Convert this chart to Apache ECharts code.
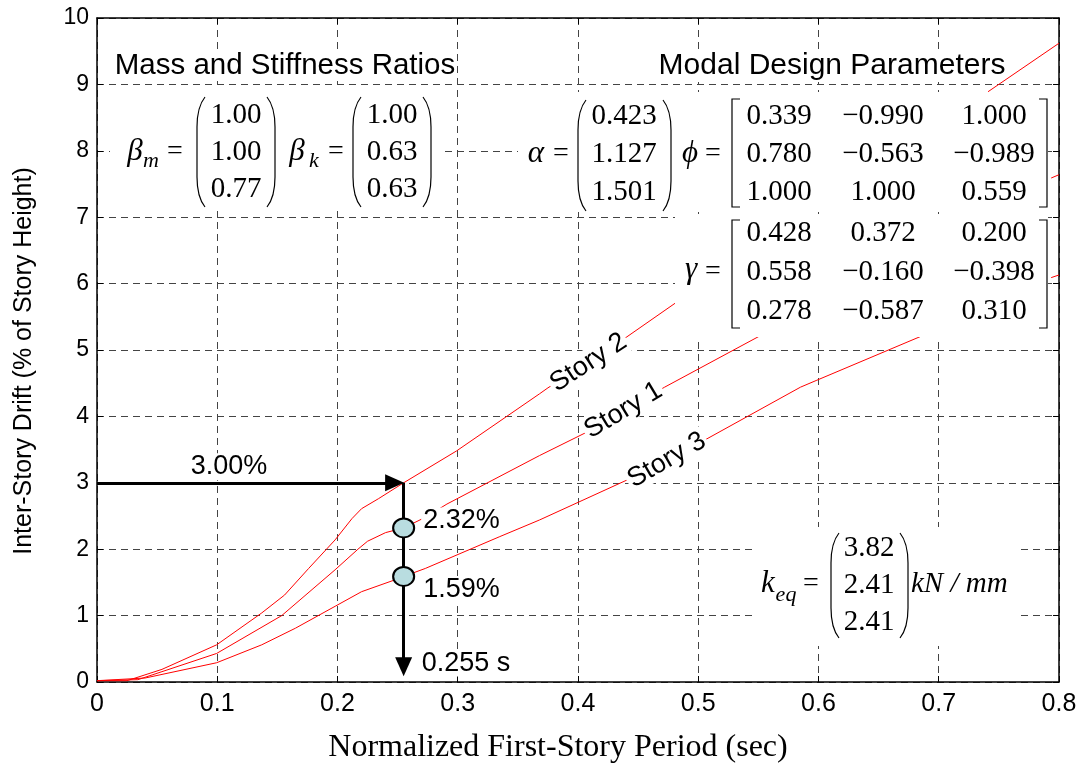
<!DOCTYPE html>
<html lang="en">
  <head>
    <meta charset="UTF-8" />
    <title>Inter-Story Drift</title>
    <style>
      html,
      body {
        margin: 0;
        padding: 0;
        background: #fff;
      }
      #main {
        width: 1081px;
        height: 769px;
      }
    </style>
  </head>
  <body>
    <div id="main"></div>
    <script src="https://cdn.jsdelivr.net/npm/echarts@6/dist/echarts.min.js"></script>

    <script>
      // drift curves: [period (s), drift (%)]; null = hidden behind a box
      const story1 = [
        [0, 0.02], [0.034, 0.035], [0.0995, 0.43], [0.1536, 1.0], [0.198, 1.69],
        [0.217, 2.0], [0.225, 2.12], [0.24, 2.25], [0.255, 2.32], [0.273, 2.48],
        [0.291, 2.68], [0.368, 3.41], [0.407, 3.76], [0.472, 4.44], [0.551, 5.21],
        null, [0.7935, 7.59], [0.8, 7.64],
      ];
      const story2 = [
        [0, 0.02], [0.025, 0.02], [0.054, 0.19], [0.0995, 0.56], [0.137, 1.04],
        [0.156, 1.31], [0.176, 1.71], [0.198, 2.14], [0.212, 2.46], [0.22, 2.61],
        [0.234, 2.76], [0.255, 3.0], [0.299, 3.48], [0.368, 4.34], [0.375, 4.43],
        [0.44, 5.19], [0.482, 5.72], null, [0.741, 8.89], [0.8, 9.62],
      ];
      const story3 = [
        [0, 0.02], [0.04, 0.06], [0.0995, 0.29], [0.137, 0.56], [0.165, 0.81],
        [0.198, 1.14], [0.22, 1.36], [0.248, 1.54], [0.255, 1.59], [0.273, 1.71],
        [0.335, 2.19], [0.368, 2.44], [0.4405, 3.04], [0.507, 3.66], [0.585, 4.44],
        [0.598, 4.54], [0.687, 5.22], null, [0.7935, 6.09], [0.8, 6.13],
      ];

      const targetPeriod = 0.255;
      const targetDrift = 3.0;
      const otherDrifts = [2.32, 1.59];

      const storyNames = ["Story 2", "Story 1", "Story 3"];
      const storyNameX = [0.4087, 0.4377, 0.4738];
      const storyNameY = [4.81, 4.09, 3.34];

      const betaM = [1.0, 1.0, 0.77];
      const betaK = [1.0, 0.63, 0.63];
      const alpha = [0.423, 1.127, 1.501];
      const phi = [
        [0.339, -0.99, 1.0],
        [0.78, -0.563, -0.989],
        [1.0, 1.0, 0.559],
      ];
      const gamma = [
        [0.428, 0.372, 0.2],
        [0.558, -0.16, -0.398],
        [0.278, -0.587, 0.31],
      ];
      const keq = [3.82, 2.41, 2.41];

      const SANS = "'Liberation Sans', Arial, sans-serif";
      const NARROW = "'Liberation Sans Narrow', 'Liberation Sans', Arial, sans-serif";
      const SERIF = "'Liberation Serif', 'Times New Roman', serif";

      const gap = (d) => (d === null ? ["-", "-"] : d);
      const fmt = (v, n) => (v < 0 ? "\u2212" + (-v).toFixed(n) : v.toFixed(n));

      // ---- annotation helpers (pixel space) ----
      function txt(x, y, s, font, align) {
        align = align || "center";
        return {
          type: "text",
          x: x,
          y: y,
          z: 110,
          style: {
            text: s,
            font: font,
            fill: "#000",
            textAlign: align,
            textVerticalAlign: "middle",
            align: align,
            verticalAlign: "middle",
          },
        };
      }
      function box(x1, y1, x2, y2) {
        return {
          type: "rect",
          z: 100,
          shape: { x: x1, y: y1, width: x2 - x1, height: y2 - y1 },
          style: { fill: "#fff" },
        };
      }
      const stroke = { fill: "none", stroke: "#000", lineWidth: 1.2 };
      function paren(x, top, bottom, side) {
        const d = 8 * side;
        return [
          { type: "bezierCurve", z: 110, shape: { x1: x + d, y1: top, cpx1: x, cpy1: top + 10, x2: x, y2: top + 30 }, style: stroke },
          { type: "line", z: 110, shape: { x1: x, y1: top + 30, x2: x, y2: bottom - 30 }, style: stroke },
          { type: "bezierCurve", z: 110, shape: { x1: x, y1: bottom - 30, cpx1: x, cpy1: bottom - 10, x2: x + d, y2: bottom }, style: stroke },
        ];
      }
      function bracket(x, top, bottom, side) {
        const d = 8 * side;
        return [
          { type: "polyline", z: 110, shape: { points: [[x + d, top], [x, top], [x, bottom], [x + d, bottom]] }, style: stroke },
        ];
      }
      function column(vals, x, rows, n) {
        return vals.map((v, i) => txt(x, rows[i], fmt(v, n), "29px " + SERIF));
      }
      function grid3(mat, cols, rows) {
        const out = [];
        mat.forEach((r, i) => r.forEach((v, j) => out.push(txt(cols[j], rows[i], fmt(v, 3), "29px " + SERIF))));
        return out;
      }

      const rowsTop = [116, 154, 192];
      const rowsGamma = [233, 272, 311];
      const rowsK = [548, 585, 622];
      const matCols = [779, 883, 994];

      const graphics = [].concat(
        // mass and stiffness ratios
        box(112, 52, 454, 81),
        txt(285, 66, "Mass and Stiffness Ratios", "29.5px " + SANS),
        box(110, 88, 443, 211),
        txt(135, 152, "\u03B2", "italic 31px " + SERIF),
        txt(151, 161, "m", "italic 22px " + SERIF),
        txt(175, 152, "=", "28px " + SERIF),
        paren(197, 97, 207, 1),
        column(betaM, 236, [115, 152, 189], 2),
        paren(275, 97, 207, -1),
        txt(297, 152, "\u03B2", "italic 31px " + SERIF),
        txt(314, 161, "k", "italic 22px " + SERIF),
        txt(336, 152, "=", "28px " + SERIF),
        paren(353, 97, 207, 1),
        column(betaK, 392, [115, 152, 189], 2),
        paren(431, 97, 207, -1),
        // modal design parameters
        box(655, 50, 1002, 82),
        txt(832, 66, "Modal Design Parameters", "30px " + SANS),
        box(518, 92, 1048, 212),
        txt(536, 154, "\u03B1", "italic 31px " + SERIF),
        txt(561, 154, "=", "28px " + SERIF),
        paren(578, 100, 211, 1),
        column(alpha, 624, rowsTop, 3),
        paren(671, 100, 211, -1),
        txt(690, 154, "\u03D5", "italic 31px " + SERIF),
        txt(713, 154, "=", "28px " + SERIF),
        bracket(732, 99, 207, 1),
        grid3(phi, matCols, rowsTop),
        bracket(1047, 99, 207, -1),
        box(675, 214, 1048, 337),
        txt(691, 270, "\u03B3", "italic 31px " + SERIF),
        txt(713, 272, "=", "28px " + SERIF),
        bracket(732, 220, 328, 1),
        grid3(gamma, matCols, rowsGamma),
        bracket(1047, 220, 328, -1),
        // equivalent stiffness
        box(752, 527, 1017, 646),
        txt(768, 584, "k", "italic 31px " + SERIF),
        txt(786, 595, "eq", "italic 22px " + SERIF),
        txt(811, 584, "=", "28px " + SERIF),
        paren(831, 533, 638, 1),
        column(keq, 869, rowsK, 2),
        paren(908, 533, 638, -1),
        txt(911, 584, "kN / mm", "italic 29px " + SERIF, "left")
      );

      const lineStory = (name, data) => ({
        name: name,
        type: "line",
        data: data.map(gap),
        showSymbol: false,
        symbol: "none",
        connectNulls: false,
        z: 2,
        lineStyle: { color: "#ff0000", width: 1 },
        silent: true,
      });

      const labelStyle = {
        color: "#000",
        fontFamily: SANS,
        fontSize: 27,
        backgroundColor: "#fff",
        padding: [0, 2],
      };

      const axisCommon = {
        type: "value",
        axisLine: { show: true, onZero: false, lineStyle: { color: "#000", width: 1.5 } },
        axisTick: { show: true, inside: true, length: 6, lineStyle: { color: "#000", width: 1 } },
      };

      const dom = document.getElementById("main");
      const myChart = echarts.init(dom);

      myChart.setOption({
        animation: false,
        backgroundColor: "#fff",
        grid: { left: 97, right: 22, top: 18, bottom: 85 },
        xAxis: [
          Object.assign({}, axisCommon, {
            min: 0,
            max: 0.8,
            interval: 0.1,
            position: "bottom",
            name: "Normalized First-Story Period (sec)",
            nameLocation: "middle",
            nameGap: 50,
            nameTextStyle: {
              color: "#000",
              fontFamily: SERIF,
              fontSize: 32,
              padding: [0, 40, 0, 0],
            },
            axisLabel: {
              color: "#000",
              fontFamily: SANS,
              fontSize: 25,
              margin: 10,
              showMinLabel: true,
              showMaxLabel: true,
              formatter: (v) => (v === 0 ? "0" : String(+v.toFixed(1))),
            },
            splitLine: { show: true, lineStyle: { color: "#444", width: 1, type: [7, 5] } },
          }),
          Object.assign({}, axisCommon, {
            min: 0,
            max: 0.8,
            interval: 0.1,
            position: "top",
            axisLabel: { show: false },
            splitLine: { show: false },
          }),
        ],
        yAxis: [
          Object.assign({}, axisCommon, {
            min: 0,
            max: 10,
            interval: 1,
            position: "left",
            name: "Inter-Story Drift (% of Story Height)",
            nameLocation: "middle",
            nameGap: 60,
            nameTextStyle: {
              color: "#000",
              fontFamily: NARROW,
              fontSize: 25,
              padding: [0, 22, 0, 0],
            },
            axisLabel: { color: "#000", fontFamily: SANS, fontSize: 23, margin: 8 },
            splitLine: { show: true, lineStyle: { color: "#444", width: 1, type: [7, 5] } },
          }),
          Object.assign({}, axisCommon, {
            min: 0,
            max: 10,
            interval: 1,
            position: "right",
            axisLabel: { show: false },
            splitLine: { show: false },
          }),
        ],
        graphic: { elements: graphics },
        series: [
          lineStory("Story 1", story1),
          lineStory("Story 2", story2),
          lineStory("Story 3", story3),
          {
            // design arrows: 3.00% across, then down to the period
            type: "scatter",
            data: [],
            z: 4,
            silent: true,
            markLine: {
              silent: true,
              animation: false,
              symbol: ["none", "triangle"],
              symbolSize: [17, 19],
              label: { show: false },
              lineStyle: { color: "#000", width: 3, type: "solid", opacity: 1 },
              emphasis: { disabled: true },
              data: [
                [{ coord: [0, targetDrift] }, { coord: [targetPeriod - 0.0075, targetDrift] }],
                [{ coord: [targetPeriod, targetDrift] }, { coord: [targetPeriod, 0.23] }],
              ],
            },
          },
          {
            // notes on the arrows
            type: "scatter",
            symbolSize: 0,
            z: 5,
            silent: true,
            itemStyle: { opacity: 1 },
            data: [
              { value: [0.1098, 3.24], label: { formatter: targetDrift.toFixed(2) + "%" } },
              { value: [0.3069, 0.285], label: { formatter: targetPeriod + " s" } },
            ],
            label: Object.assign({ show: true, position: "inside" }, labelStyle),
          },
          {
            // story names laid along the curves
            type: "scatter",
            symbolSize: 0,
            z: 5,
            silent: true,
            itemStyle: { opacity: 1 },
            data: storyNames.map((n, i) => ({
              value: [storyNameX[i], storyNameY[i]],
              label: { formatter: n, rotate: [33, 31, 30][i] },
            })),
            label: Object.assign({ show: true, position: "inside" }, labelStyle),
          },
          {
            // drifts of the other stories at the design period
            type: "scatter",
            z: 6,
            silent: true,
            symbol: "circle",
            symbolSize: [21, 19],
            itemStyle: { color: "#b9dde0", borderColor: "#000", borderWidth: 2, opacity: 1 },
            data: otherDrifts.map((v, i) => ({
              value: [targetPeriod, v],
              label: { offset: [0, i === 0 ? -7 : 13] },
            })),
            label: Object.assign(
              {
                show: true,
                position: "right",
                distance: 6,
                formatter: (p) => p.value[1].toFixed(2) + "%",
              },
              labelStyle
            ),
          },
        ],
      });
    </script>
  </body>
</html>
